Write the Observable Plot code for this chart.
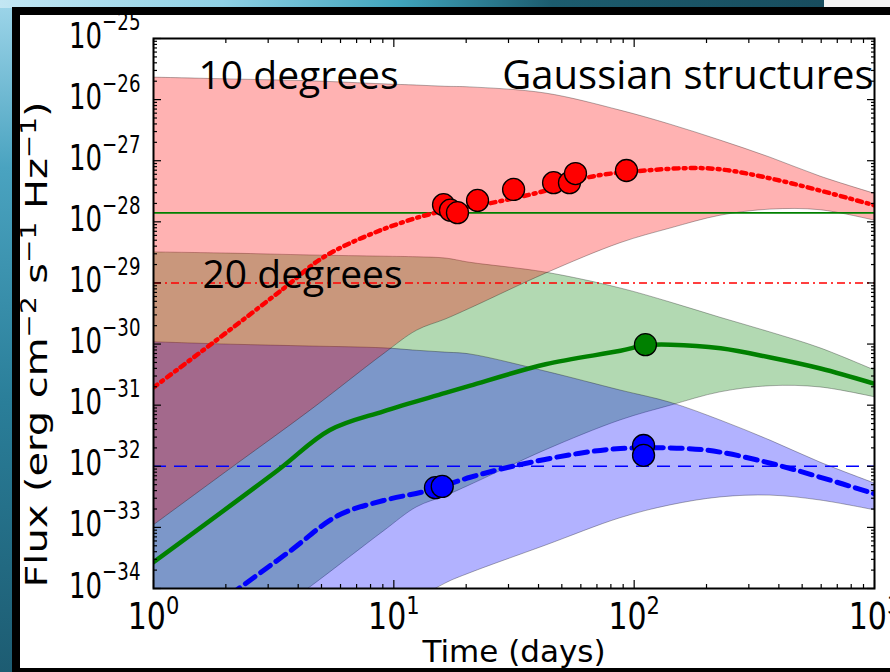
<!DOCTYPE html>
<html><head><meta charset="utf-8">
<script src="https://cdn.jsdelivr.net/npm/d3@7"></script>
<script src="https://cdn.jsdelivr.net/npm/@observablehq/plot@0.6"></script>
<style>
html,body{margin:0;padding:0;}
body{width:890px;height:672px;position:relative;overflow:hidden;background:linear-gradient(to bottom,#9fd6ea 0%,#4aa3c0 25%,#2a7e99 60%,#1d5c72 100%);}
#top{position:absolute;left:0;top:0;width:890px;height:8px;background:linear-gradient(to right,#c2e6f3 0%,#8fd0e4 25%,#3fa3bb 45%,#1c5c6e 62%,#17495a 100%);}
#icon{position:absolute;left:824px;top:0;width:66px;height:8px;background:#f2f2f2;}
#frame{position:absolute;left:12px;top:7px;width:878px;height:665px;background:#000;}
#panel{position:absolute;left:20px;top:15px;width:870px;height:653px;background:#fff;}
#chart{position:absolute;left:0;top:0;}
</style></head><body>
<div id="top"></div><div id="icon"></div><div id="frame"></div><div id="panel"></div>
<div id="chart"></div>
<script>
// ---- data (flux values stored as log10) ----
const bandDays = [1, 2.1, 4.5, 9.06, 12.5, 16.4, 20.8, 42.8, 87.7, 141.6, 228.6, 369, 596, 1000];
const band10Hi = [-25.64,-25.67,-25.70,-25.75,-25.77,-25.79,-25.80,-25.90,-26.18,-26.41,-26.67,-26.95,-27.26,-27.54];
const band10Lo = [-32.97,-32.04,-31.09,-30.17,-29.78,-29.60,-29.42,-28.85,-28.35,-28.11,-27.90,-27.80,-27.81,-27.98];
const band20Hi = [-28.50,-28.52,-28.55,-28.57,-28.58,-28.60,-28.67,-28.83,-29.09,-29.32,-29.57,-29.81,-30.07,-30.43];
const band20Lo = [-35.87,-34.93,-33.98,-33.07,-32.67,-32.49,-32.31,-31.74,-31.25,-31.01,-30.79,-30.69,-30.71,-30.87];
const band30Hi = [-29.97,-30.01,-30.04,-30.07,-30.11,-30.14,-30.17,-30.45,-30.76,-30.96,-31.25,-31.58,-31.94,-32.28];
const band30Lo = [-37.44,-36.49,-35.51,-34.61,-34.20,-33.92,-33.75,-33.30,-32.85,-32.64,-32.51,-32.48,-32.56,-32.72];

const redDays = [1, 1.78, 3.48, 5.09, 8.4, 14.6, 24.8, 42.8, 64.6, 111, 212, 399, 1000];
const redLog = [-30.71,-29.97,-29.09,-28.58,-28.17,-27.86,-27.70,-27.49,-27.27,-27.16,-27.13,-27.32,-27.73];
const greenDays = [1, 3.28, 5.4, 9.06, 16.4, 20.8, 42.8, 87.7, 111, 142, 229, 369, 596, 1000];
const greenLog = [-33.57,-32.07,-31.41,-31.10,-30.80,-30.68,-30.33,-30.11,-30.02,-30.01,-30.07,-30.22,-30.40,-30.65];
const blueDays = [1, 2.30, 3.72, 5.83, 9.06, 13.8, 20.8, 31.2, 58.6, 87.7, 167, 229, 369, 596, 1000];
const blueLog = [-35.03,-33.98,-33.38,-32.81,-32.56,-32.40,-32.18,-32.00,-31.79,-31.71,-31.71,-31.77,-31.95,-32.18,-32.45];

const redObsDays = [16.1, 17.2, 18.4, 22.3, 31.5, 46.2, 53.8, 57.0, 92.9];
const redObsLog = [-27.72,-27.81,-27.85,-27.65,-27.47,-27.36,-27.36,-27.21,-27.16];
const greenObsDays = [111.4];
const greenObsLog = [-30.01];
const blueObsDays = [14.9, 15.9, 109.4, 109.4];
const blueObsLog = [-32.35,-32.33,-31.66,-31.82];

const limitFlux = [1.4e-28, 1e-29, 1e-32];   // green, red, blue sensitivity levels

const noteText = ["10 degrees", "20 degrees", "Gaussian structures"];
const noteDays = [1.54, 1.60, 1000];
const noteLog = [-25.82, -29.09, -25.82];

const xMajor = [1, 10, 100, 1000];
const yMajor = [1e-34,1e-33,1e-32,1e-31,1e-30,1e-29,1e-28,1e-27,1e-26,1e-25];
const minorMult = [2,3,4,5,6,7,8,9];
const xLabel = "Time (days)";
const yLabel = "Flux (erg cm^{−2} s^{−1} Hz^{−1})";

// ---- build ----
const F = v => 10 ** v;
const band = (hi, lo) => bandDays.map((t, i) => ({t, hi: F(hi[i]), lo: F(lo[i])}));
const series = (days, logs) => days.map((t, i) => ({t, f: F(logs[i])}));
const xMinor = xMajor.slice(0, -1).flatMap(d => minorMult.map(k => k * d));
const yMinor = yMajor.slice(0, -1).flatMap(d => minorMult.map(k => k * d));
const expFmt = d => "10^{" + String(Math.round(Math.log10(d))).replace("-", "−") + "}";
const blank = () => "";
const notes = noteText.map((text, i) => ({text, t: noteDays[i], f: F(noteLog[i])}));

const edge = {stroke: "black", strokeOpacity: 0.3, strokeWidth: 1, curve: "catmull-rom", clip: true};
const tk = {label: null, tickFormat: blank, strokeWidth: 1.2};

const svg = Plot.plot({
  width: 890, height: 672,
  marginLeft: 153, marginRight: 16, marginTop: 38, marginBottom: 84,
  style: {background: "transparent", fontFamily: "DejaVu Sans"},
  x: {type: "log", domain: [1, 1000]},
  y: {type: "log", domain: [1e-34, 1e-25]},
  marks: [
    Plot.areaY(band(band20Hi, band20Lo), {x: "t", y1: "lo", y2: "hi", fill: "#008000", fillOpacity: 0.3, ...edge}),
    Plot.areaY(band(band30Hi, band30Lo), {x: "t", y1: "lo", y2: "hi", fill: "#0000ff", fillOpacity: 0.3, ...edge}),
    Plot.areaY(band(band10Hi, band10Lo), {x: "t", y1: "lo", y2: "hi", fill: "#ff0000", fillOpacity: 0.3, ...edge}),
    Plot.ruleY([limitFlux[0]], {stroke: "#008000", strokeWidth: 1.8}),
    Plot.ruleY([limitFlux[1]], {stroke: "#ff0000", strokeWidth: 1.6, strokeDasharray: "8,4,2,4"}),
    Plot.ruleY([limitFlux[2]], {stroke: "#0000ff", strokeWidth: 1.6, strokeDasharray: "13,8"}),
    Plot.lineY(series(redDays, redLog), {x: "t", y: "f", stroke: "#ff0000", strokeWidth: 4.5, strokeDasharray: "5,5,2,5", curve: "catmull-rom", clip: true}),
    Plot.lineY(series(greenDays, greenLog), {x: "t", y: "f", stroke: "#008000", strokeWidth: 4.5, curve: "catmull-rom", clip: true}),
    Plot.lineY(series(blueDays, blueLog), {x: "t", y: "f", stroke: "#0000ff", strokeWidth: 5, strokeDasharray: "12,7", curve: "catmull-rom", clip: true}),
    Plot.dot(series(redObsDays, redObsLog), {x: "t", y: "f", r: 11, fill: "#ff0000", stroke: "black", strokeWidth: 1.3}),
    Plot.dot(series(greenObsDays, greenObsLog), {x: "t", y: "f", r: 11, fill: "#008000", stroke: "black", strokeWidth: 1.3}),
    Plot.dot(series(blueObsDays, blueObsLog), {x: "t", y: "f", r: 11, fill: "#0000ff", stroke: "black", strokeWidth: 1.3}),
    Plot.text(notes.slice(0, 2), {x: "t", y: "f", text: "text", textAnchor: "start", lineAnchor: "bottom", fontSize: 39, fontFamily: "Open Sans", fill: "black"}),
    Plot.text(notes.slice(2), {x: "t", y: "f", text: "text", textAnchor: "end", lineAnchor: "bottom", dx: -1, fontSize: 40, fontFamily: "Open Sans", fill: "black"}),
    // ticks (inward, all four sides)
    Plot.axisX(xMajor, {anchor: "bottom", tickSize: -8, ...tk}),
    Plot.axisX(xMinor, {anchor: "bottom", tickSize: -4, ...tk}),
    Plot.axisX(xMajor, {anchor: "top", tickSize: -8, ...tk}),
    Plot.axisX(xMinor, {anchor: "top", tickSize: -4, ...tk}),
    Plot.axisY(yMajor, {anchor: "left", tickSize: -8, ...tk}),
    Plot.axisY(yMinor, {anchor: "left", tickSize: -4, ...tk}),
    Plot.axisY(yMajor, {anchor: "right", tickSize: -8, ...tk}),
    Plot.axisY(yMinor, {anchor: "right", tickSize: -4, ...tk}),
    // tick labels
    Plot.axisX(xMajor, {anchor: "bottom", tickSize: 0, tickPadding: 0, tickFormat: expFmt, fontSize: 30, label: null}),
    Plot.axisY(yMajor, {anchor: "left", tickSize: 0, tickPadding: 13, tickFormat: expFmt, fontSize: 26, label: null}),
    // axis titles
    Plot.text([xLabel], {frameAnchor: "bottom", textAnchor: "middle", lineAnchor: "bottom", dy: 73, fontSize: 31, fill: "black"}),
    Plot.text([yLabel], {frameAnchor: "left", textAnchor: "middle", lineAnchor: "middle", rotate: -90, dx: -116, dy: 31, fontSize: 30, fill: "black"}),
    Plot.frame({stroke: "black", strokeWidth: 2})
  ]
});
document.getElementById("chart").appendChild(svg);

// ---- superscripts and glyph stretch ----
const NS = "http://www.w3.org/2000/svg";
function supify(el, raise, ratio) {
  const parts = el.textContent.split(/\^\{([^}]*)\}/);
  if (parts.length === 1) return;
  const fs = parseFloat(getComputedStyle(el).fontSize);
  el.textContent = "";
  let shift = 0;
  parts.forEach((p, i) => {
    if (!p) return;
    const sup = i % 2 === 1;
    const target = sup ? -raise : 0;
    const ts = document.createElementNS(NS, "tspan");
    ts.setAttribute("dy", target - shift);
    shift = target;
    if (sup) ts.setAttribute("font-size", fs * ratio);
    ts.textContent = p;
    el.appendChild(ts);
  });
}
function stretch(el, sx, sy) {
  const tr = el.getAttribute("transform") || "";
  el.setAttribute("transform", tr + ` scale(${sx},${sy})`);
}
svg.querySelectorAll("text").forEach(el => {
  const s = el.textContent;
  const fs = parseFloat(getComputedStyle(el).fontSize);
  if (s.startsWith("Flux")) { supify(el, 11, 0.7); stretch(el, 1.33, 1); }
  else if (s.startsWith("10^{")) {
    if (Math.abs(fs - 26) < 0.5) { el.setAttribute("y", 9 / 1.35); supify(el, 12.6, 0.7); stretch(el, 1, 1.35); }
    else { el.setAttribute("y", 41 / 1.22); supify(el, 12.3, 0.7); stretch(el, 1, 1.22); }
  }
});
</script></body></html>
